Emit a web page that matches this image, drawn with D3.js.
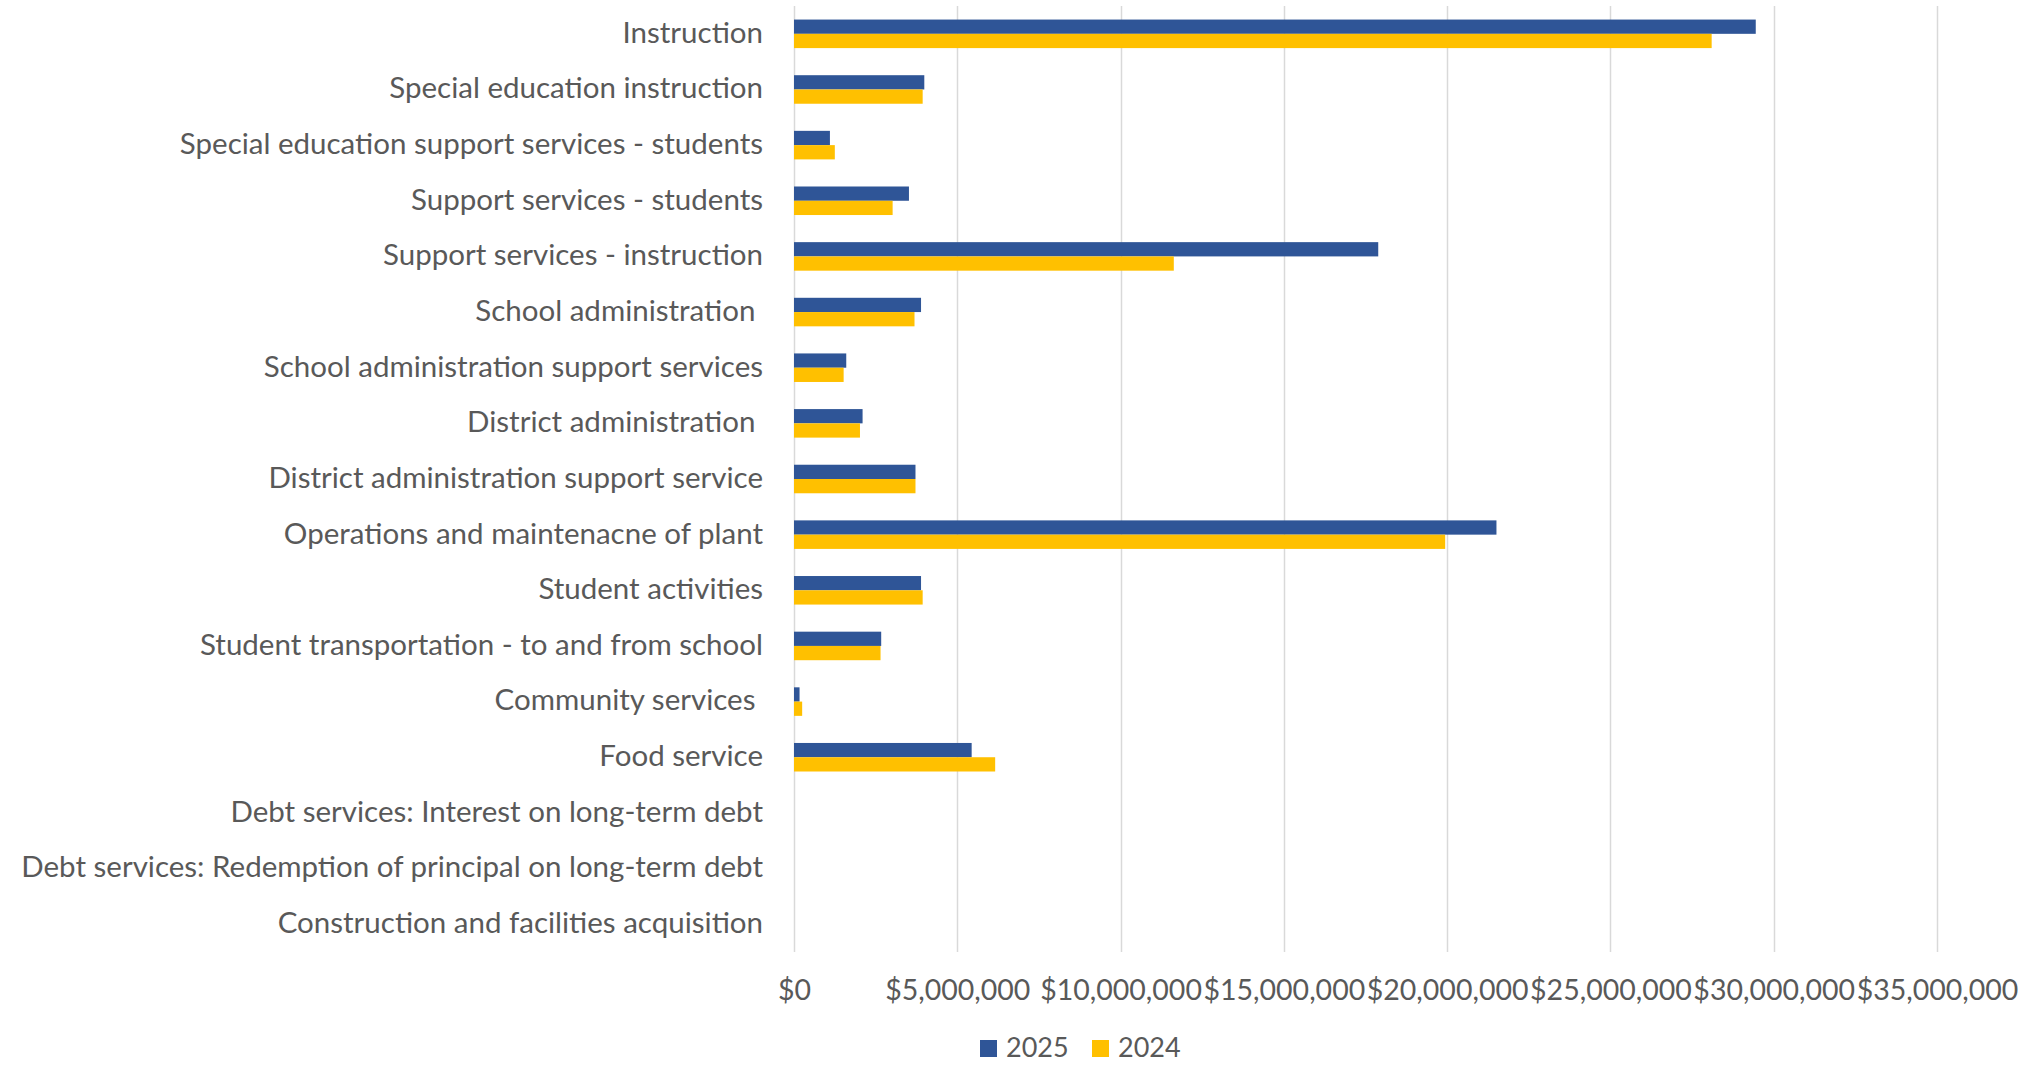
<!DOCTYPE html>
<html>
<head>
<meta charset="utf-8">
<script src="https://cdn.jsdelivr.net/npm/d3@7"></script>
<style>
	html, body { margin: 0; padding: 0; background: #fff; }
	svg text { font-family: Lato, "Open Sans", sans-serif; fill: #595959; white-space: pre; }
</style>
</head>
<body>
<svg id="chart"></svg>
<script>
// chart values
const categories = [
	'Instruction',
	'Special education instruction',
	'Special education support services - students',
	'Support services - students',
	'Support services - instruction',
	'School administration ',
	'School administration support services',
	'District administration ',
	'District administration support service',
	'Operations and maintenacne of plant',
	'Student activities',
	'Student transportation - to and from school',
	'Community services ',
	'Food service',
	'Debt services: Interest on long-term debt',
	'Debt services: Redemption of principal on long-term debt',
	'Construction and facilities acquisition'
];
const values2025 = [29450000, 3990000, 1100000, 3520000, 17890000, 3890000, 1600000, 2100000, 3720000, 21510000, 3890000, 2670000, 170000, 5440000, 0, 0, 0];
const values2024 = [28100000, 3940000, 1250000, 3020000, 11630000, 3690000, 1520000, 2020000, 3720000, 19940000, 3940000, 2650000, 250000, 6160000, 0, 0, 0];
const seriesNames = ['2025', '2024'];
const seriesColors = ['#2F5597', '#FFC000'];
const xTicks = [0, 5000000, 10000000, 15000000, 20000000, 25000000, 30000000, 35000000];

const width = 2038;
const height = 1065;
const plotLeft = 794;
const plotRight = 1937;
const plotTop = 6;
const plotBottom = 952;
const fontSize = 29.5;

const $svg = d3.select('#chart').attr('width', width).attr('height', height);

const x = d3.scaleLinear().domain([0, 35000000]).range([plotLeft, plotRight]);
const y = d3.scaleBand().domain(categories).range([plotTop, plotBottom]);

// excel style gap width (~95%) between groups
const groupH = y.bandwidth() / 1.95;
const ySeries = d3.scaleBand()
	.domain(seriesNames)
	.range([(y.bandwidth() - groupH) / 2, (y.bandwidth() + groupH) / 2]);

// gridlines
$svg.append('g')
	.selectAll('line')
	.data(xTicks)
	.join('line')
	.attr('x1', d => Math.round(x(d)) + 0.5)
	.attr('x2', d => Math.round(x(d)) + 0.5)
	.attr('y1', plotTop)
	.attr('y2', plotBottom)
	.attr('stroke', '#D9D9D9')
	.attr('stroke-width', 1.5);

// bars
const rows = categories.map((c, i) => ({ c, vals: [values2025[i], values2024[i]] }));
const $rows = $svg.append('g')
	.selectAll('g')
	.data(rows)
	.join('g')
	.attr('transform', d => `translate(0,${y(d.c)})`);

$rows.selectAll('rect')
	.data(d => d.vals.map((v, j) => ({ v, s: seriesNames[j], color: seriesColors[j] })))
	.join('rect')
	.attr('x', x(0))
	.attr('y', d => ySeries(d.s))
	.attr('width', d => x(d.v) - x(0))
	.attr('height', ySeries.bandwidth())
	.attr('fill', d => d.color);

// category labels
const yAxis = d3.axisLeft(y).tickSize(0).tickPadding(31);
$svg.append('g')
	.attr('transform', `translate(${plotLeft},0)`)
	.call(yAxis)
	.call(g => g.select('.domain').remove())
	.selectAll('text')
	.attr('dy', '0.3em')
	.style('font-size', fontSize + 'px')
	.attr('font-family', null);

// value axis labels
const fmt = d => '$' + d3.format(',')(d);
const xAxis = d3.axisBottom(x).tickValues(xTicks).tickFormat(fmt).tickSize(0).tickPadding(28);
$svg.append('g')
	.attr('transform', `translate(0,${plotBottom})`)
	.call(xAxis)
	.call(g => g.select('.domain').remove())
	.selectAll('text')
	.style('font-size', '28.5px')
	.attr('font-family', null);

// legend
const legend = $svg.append('g').attr('transform', 'translate(980,1047)');
const items = legend.selectAll('g')
	.data(seriesNames)
	.join('g')
	.attr('transform', (d, i) => `translate(${i * 112},0)`);
items.append('rect')
	.attr('x', 0)
	.attr('y', -7)
	.attr('width', 17)
	.attr('height', 17)
	.attr('fill', (d, i) => seriesColors[i]);
items.append('text')
	.attr('x', 26)
	.attr('dy', '0.36em')
	.style('font-size', '27px')
	.text(d => d);
</script>
</body>
</html>
